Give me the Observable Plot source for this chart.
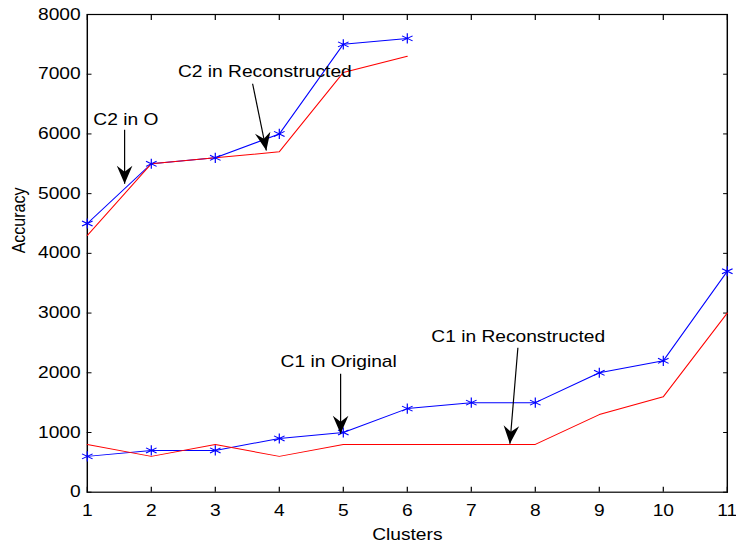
<!DOCTYPE html>
<html><head><meta charset="utf-8">
<script src="https://cdn.jsdelivr.net/npm/d3@7"></script>
<script src="https://cdn.jsdelivr.net/npm/@observablehq/plot@0.6"></script>
<style>body{margin:0;background:#fff;} #chart svg{display:block}</style>
</head><body><div id="chart"></div>
<script>
// ---- data ----
const clusters = [1, 2, 3, 4, 5, 6, 7, 8, 9, 10, 11];
const c2Original      = [4500, 5500, 5600, 6000, 7500, 7600];
const c2Reconstructed = [4300, 5500, 5600, 5700, 7030, 7300];
const c1Original      = [600, 700, 700, 900, 1000, 1400, 1500, 1500, 2000, 2200, 3700];
const c1Reconstructed = [800, 600, 800, 600, 800, 800, 800, 800, 1300, 1600, 3000];
const yTicks = [0, 1000, 2000, 3000, 4000, 5000, 6000, 7000, 8000];

// annotations (data units)
const noteTexts = ["C2 in O", "C2 in Reconstructed", "C1 in Original", "C1 in Reconstructed"];
const noteX  = [1.094, 2.416, 4.020, 6.375];
const noteY  = [6242, 7034, 2177, 2596];
const arrowX1 = [1.583, 3.583, 4.958, 7.728];
const arrowY1 = [6069, 6840, 1983, 2418];
const arrowX2 = [1.583, 3.797, 4.958, 7.603];
const arrowY2 = [5165, 5723, 978, 811];

// ---- layout ----
const S = 1.2;                 // horizontal stretch of the reference picture
const W = 736 / S, H = 544;
const mL = 86.7 / S, mR = 9.3 / S, mT = 14, mB = 52.3;
const xDom = [1, 11], yDom = [0, 8000];
const kx = (W - mL - mR) / (xDom[1] - xDom[0]);
const ky = (H - mT - mB) / (yDom[1] - yDom[0]);

const rows = (vals, series) => vals.map((v, i) => ({x: clusters[i], y: v, series}));
const blue = [rows(c2Original, "C2 O"), rows(c1Original, "C1 O")];
const red  = [rows(c2Reconstructed, "C2 R"), rows(c1Reconstructed, "C1 R")];

const notes = noteTexts.map((t, i) => ({t, x: noteX[i], y: noteY[i]}));
const arrows = noteTexts.map((t, i) => {
  const sx = (arrowX2[i] - arrowX1[i]) * kx, sy = -(arrowY2[i] - arrowY1[i]) * ky;
  return {x1: arrowX1[i], y1: arrowY1[i], x2: arrowX2[i], y2: arrowY2[i],
          angle: Math.atan2(-sx, sy) * 180 / Math.PI};
});

const arrowHead = {
  draw(ctx) {
    ctx.moveTo(0, 0);
    ctx.lineTo(-6.5, -18);
    ctx.lineTo(0, -12);
    ctx.lineTo(6.5, -18);
    ctx.closePath();
  }
};

const font = "Liberation Sans, Arial, sans-serif";
const fs = 16;

const svg = Plot.plot({
  width: W, height: H,
  marginLeft: mL, marginRight: mR, marginTop: mT, marginBottom: mB,
  style: {fontFamily: font, fontSize: fs + "px", color: "black", background: "white"},
  x: {domain: xDom},
  y: {domain: yDom},
  marks: [
    Plot.frame({stroke: "black", strokeWidth: 1.2}),
    Plot.axisX({ticks: clusters, tickSize: -5, tickPadding: 17.5, tickFormat: d => String(d), label: null, fontSize: fs}),
    Plot.axisX({anchor: "top", ticks: clusters, tickSize: -5, tickFormat: () => "", label: null}),
    Plot.axisY({ticks: yTicks, tickSize: -4, tickPadding: 9.5, tickFormat: d => String(d), label: null, fontSize: fs}),
    Plot.axisY({anchor: "right", ticks: yTicks, tickSize: -4, tickFormat: () => "", label: null}),
    Plot.text(["Accuracy"], {frameAnchor: "left", dx: (18 - 86.7) / S, rotate: -90, fontSize: fs, fill: "black"}),
    Plot.text(["Clusters"], {frameAnchor: "bottom", dy: 48, fontSize: fs, fill: "black"}),
    ...blue.map(d => Plot.line(d, {x: "x", y: "y", stroke: "#0000ff", strokeWidth: 1})),
    ...red.map(d => Plot.line(d, {x: "x", y: "y", stroke: "#ff0000", strokeWidth: 1})),
    ...blue.map(d => Plot.dot(d, {x: "x", y: "y", symbol: "asterisk", r: 4.8, stroke: "#0000ff", strokeWidth: 1})),
    Plot.link(arrows, {x1: "x1", y1: "y1", x2: "x2", y2: "y2", stroke: "black", strokeWidth: 1}),
    Plot.dot(arrows, {x: "x2", y: "y2", symbol: arrowHead, rotate: "angle", fill: "black", stroke: "none", r: 5}),
    Plot.text(notes, {x: "x", y: "y", text: "t", textAnchor: "start", fontSize: fs, fill: "black"})
  ]
});

svg.setAttribute("viewBox", `0 0 ${W} ${H}`);
svg.setAttribute("preserveAspectRatio", "none");
svg.setAttribute("width", 736);
svg.setAttribute("height", 544);
svg.style.width = "736px";
svg.style.height = "544px";
svg.style.maxWidth = "none";
document.getElementById("chart").appendChild(svg);
</script>
</body></html>
